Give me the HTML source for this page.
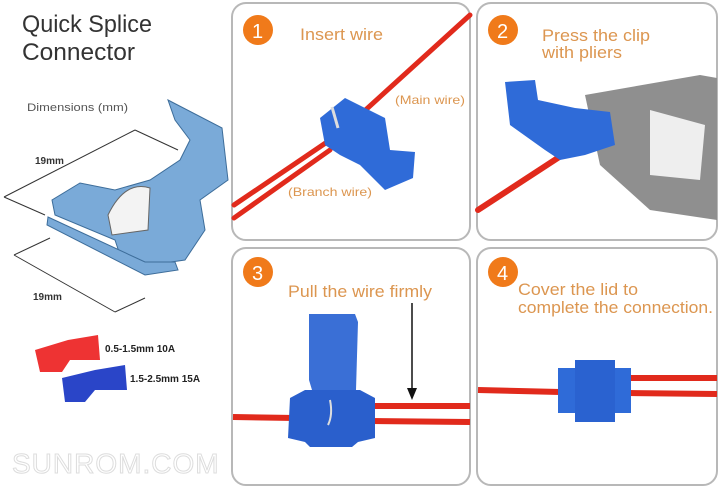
<!DOCTYPE html>
<html><head><style>
body{margin:0;background:#fff;width:720px;height:488px;overflow:hidden}
svg text{font-family:"Liberation Sans",sans-serif}
</style></head><body>
<svg width="720" height="488" viewBox="0 0 720 488" xmlns="http://www.w3.org/2000/svg">
<rect width="720" height="488" fill="#fff"/>
<g fill="#fff" stroke="#b8b8b8" stroke-width="2">
<rect x="232" y="3" width="238" height="237" rx="14"/>
<rect x="477" y="3" width="240" height="237" rx="14"/>
<rect x="232" y="248" width="238" height="237" rx="14"/>
<rect x="477" y="248" width="240" height="237" rx="14"/>
</g>
<!-- left column -->
<text x="22" y="32" font-size="24" fill="#333" textLength="130" lengthAdjust="spacingAndGlyphs">Quick Splice</text>
<text x="22" y="60" font-size="24" fill="#333" textLength="113" lengthAdjust="spacingAndGlyphs">Connector</text>
<text x="27" y="111" font-size="11" fill="#555" textLength="101" lengthAdjust="spacingAndGlyphs">Dimensions (mm)</text>
<g stroke="#333" stroke-width="1" fill="none">
<line x1="4" y1="197" x2="135" y2="130"/>
<line x1="135" y1="130" x2="178" y2="150"/>
<line x1="4" y1="197" x2="45" y2="215"/>
<line x1="14" y1="255" x2="115" y2="312"/>
<line x1="14" y1="255" x2="50" y2="238"/>
<line x1="115" y1="312" x2="145" y2="298"/>
</g>
<text x="35" y="164" font-size="10" font-weight="bold" fill="#333">19mm</text>
<text x="33" y="300" font-size="10" font-weight="bold" fill="#333">19mm</text>
<g fill="#7aaad8" stroke="#3d6d9a" stroke-width="1">
<polygon points="168,100 222,128 228,180 200,200 205,230 185,260 150,265 120,255 115,240 55,215 52,200 80,183 115,190 150,180 180,160 190,140 175,120"/>
<polygon points="48,217 145,262 175,262 178,270 145,275 47,225"/>
</g>
<path d="M108,215 Q125,180 150,188 L148,230 L112,235 Z" fill="#f3f3f3" stroke="#666"/>
<polygon points="35,350 68,340 98,335 100,360 70,360 62,372 40,372" fill="#e33"/>
<polygon points="62,378 95,370 125,365 127,390 95,390 85,402 65,402" fill="#2a45c8"/>
<text x="105" y="352" font-size="10" font-weight="bold" fill="#222">0.5-1.5mm 10A</text>
<text x="130" y="382" font-size="10" font-weight="bold" fill="#222">1.5-2.5mm 15A</text>
<text x="12" y="473" font-size="28" fill="#fff" stroke="#ddd" stroke-width="1" letter-spacing="1">SUNROM.COM</text>
<!-- panel 1 -->
<circle cx="258" cy="30" r="15" fill="#f07a1a"/><text x="252" y="38" font-size="20" fill="#fff">1</text>
<text x="300" y="40" font-size="17" fill="#dc9650" textLength="83" lengthAdjust="spacingAndGlyphs">Insert wire</text>
<g stroke="#e12a1c" stroke-width="5" fill="none" stroke-linecap="round">
<line x1="234" y1="205" x2="330" y2="140"/><line x1="234" y1="218" x2="330" y2="150"/>
<line x1="360" y1="115" x2="470" y2="15"/>
</g>
<polygon points="320,118 345,98 385,118 390,150 415,152 413,178 385,190 360,165 340,155 325,145" fill="#2f6bd8"/>
<path d="M332,107 L338,128" stroke="#ddd" stroke-width="3"/>
<text x="395" y="104" font-size="12" fill="#dc9650" textLength="70" lengthAdjust="spacingAndGlyphs">(Main wire)</text>
<text x="288" y="196" font-size="12" fill="#dc9650" textLength="84" lengthAdjust="spacingAndGlyphs">(Branch wire)</text>
<!-- panel 2 -->
<circle cx="503" cy="30" r="15" fill="#f07a1a"/><text x="497" y="38" font-size="20" fill="#fff">2</text>
<text x="542" y="41" font-size="17" fill="#dc9650" textLength="108" lengthAdjust="spacingAndGlyphs">Press the clip</text>
<text x="542" y="58" font-size="17" fill="#dc9650" textLength="80" lengthAdjust="spacingAndGlyphs">with pliers</text>
<path d="M585,95 L700,75 L717,78 L717,220 L650,210 L600,165 Z" fill="#8f8f8f"/>
<path d="M650,110 L705,125 L700,180 L650,175 Z" fill="#eee"/>
<line x1="478" y1="210" x2="570" y2="150" stroke="#e12a1c" stroke-width="6" stroke-linecap="round"/>
<polygon points="505,82 535,80 538,100 575,108 610,112 615,145 585,155 560,160 545,150 510,125" fill="#2f6bd8"/>
<!-- panel 3 -->
<circle cx="258" cy="272" r="15" fill="#f07a1a"/><text x="252" y="280" font-size="20" fill="#fff">3</text>
<text x="288" y="297" font-size="17" fill="#dc9650" textLength="144" lengthAdjust="spacingAndGlyphs">Pull the wire firmly</text>
<line x1="412" y1="303" x2="412" y2="390" stroke="#111" stroke-width="1.5"/>
<polygon points="407,388 417,388 412,400" fill="#111"/>
<g stroke="#e12a1c" stroke-width="6">
<line x1="233" y1="417" x2="295" y2="418"/>
<line x1="370" y1="406" x2="470" y2="406"/><line x1="370" y1="421" x2="470" y2="422"/></g>
<polygon points="309,314 355,314 358,322 356,390 312,390 309,380" fill="#3a6fd6"/>
<polygon points="290,398 305,390 360,390 375,398 375,438 358,442 352,447 310,447 305,442 288,438" fill="#2a5fcc"/>
<path d="M330,400 Q333,415 328,425" stroke="#ddd" stroke-width="2" fill="none"/>
<!-- panel 4 -->
<circle cx="503" cy="272" r="15" fill="#f07a1a"/><text x="497" y="280" font-size="20" fill="#fff">4</text>
<text x="518" y="295" font-size="17" fill="#dc9650" textLength="120" lengthAdjust="spacingAndGlyphs">Cover the lid to</text>
<text x="518" y="313" font-size="17" fill="#dc9650" textLength="195" lengthAdjust="spacingAndGlyphs">complete the connection.</text>
<g stroke="#e12a1c" stroke-width="6">
<line x1="478" y1="390" x2="560" y2="392"/>
<line x1="628" y1="378" x2="717" y2="378"/><line x1="628" y1="393" x2="717" y2="394"/></g>
<rect x="558" y="368" width="73" height="45" fill="#2f6bd8"/>
<rect x="575" y="360" width="40" height="62" fill="#2a62d0"/>
</svg>
</body></html>
